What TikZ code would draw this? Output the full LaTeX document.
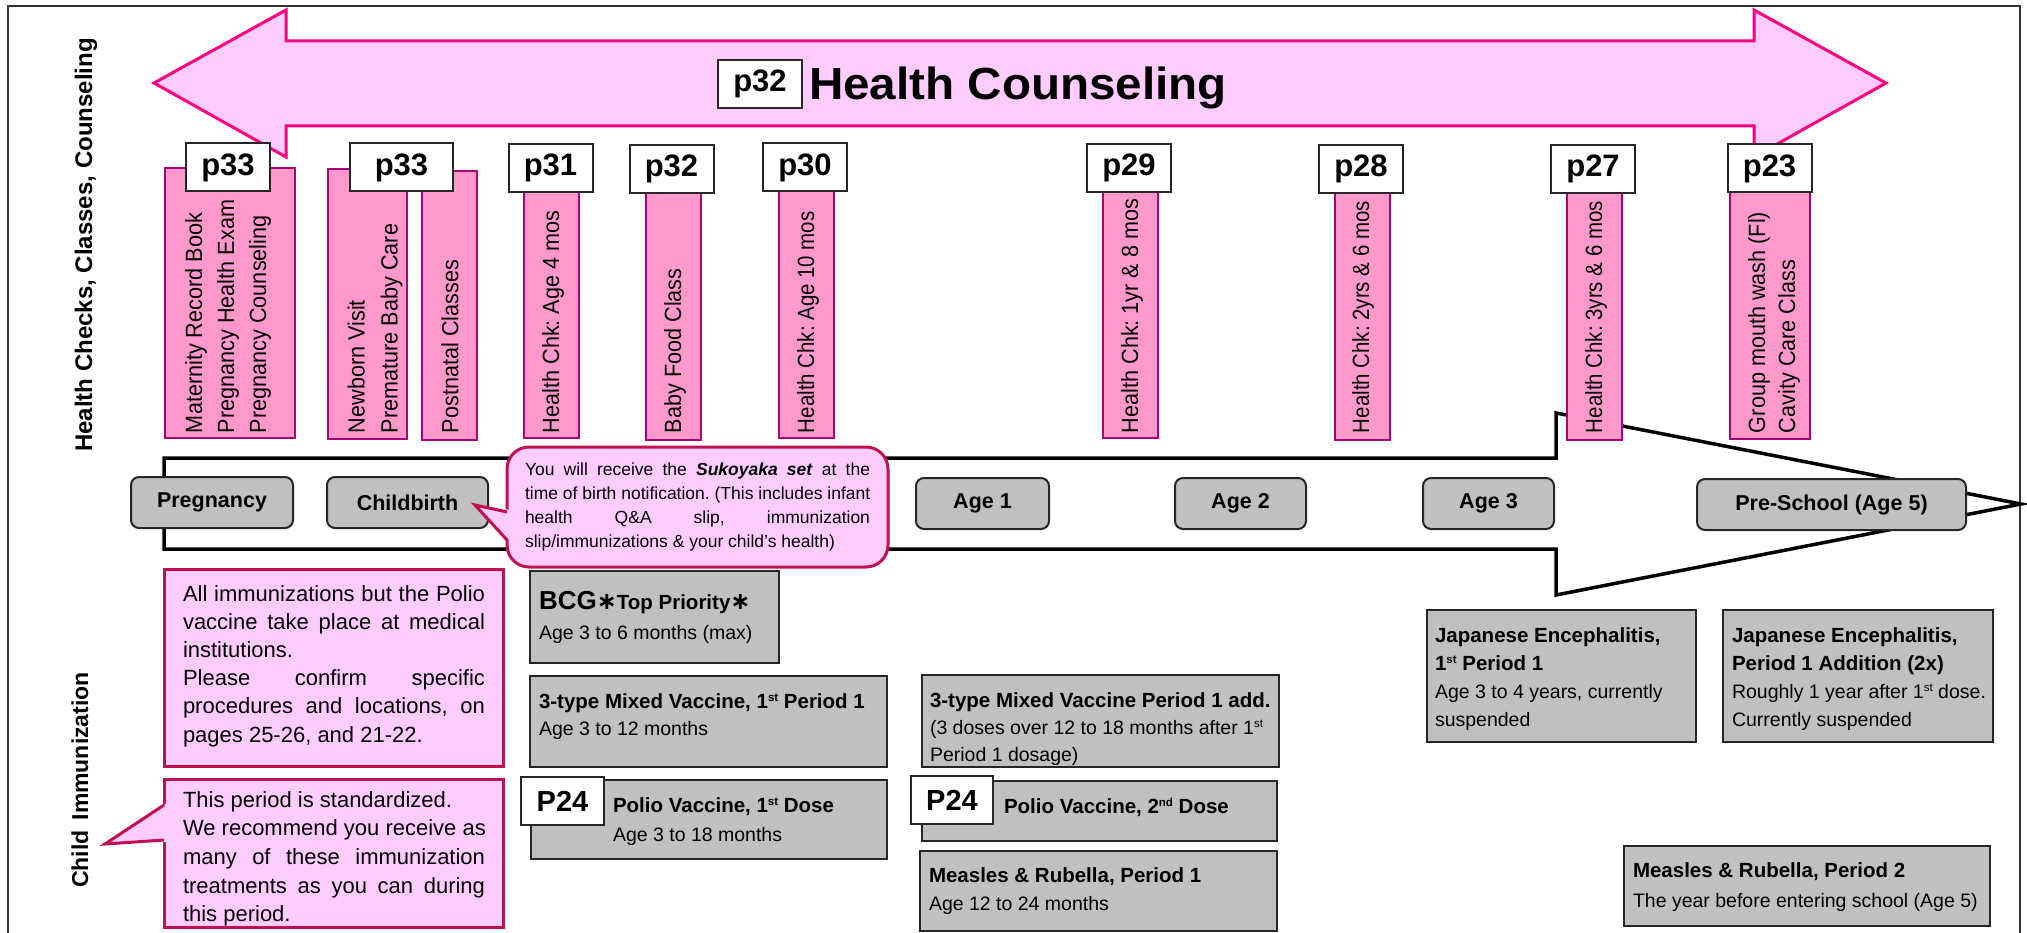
\documentclass[tikz,border=0pt]{standalone}
\usepackage{graphicx}
\usepackage{fontspec}
\setmainfont{Liberation Sans}
\newfontfamily\djv{DejaVu Sans}
\newfontfamily\cond[FakeStretch=0.92]{Liberation Sans}
\newfontfamily\condn[FakeStretch=0.87]{Liberation Sans}
\definecolor{apink}{RGB}{255,204,255}
\definecolor{aline}{RGB}{255,0,128}
\definecolor{cfill}{RGB}{255,153,204}
\definecolor{cline}{RGB}{170,0,120}
\definecolor{crim}{RGB}{192,16,80}
\definecolor{gbox}{RGB}{192,192,192}
\newcommand\fs[2]{\fontsize{#1}{#2}\selectfont}
\newcommand\rbox[6]{\node[#1, anchor=north west, minimum width={#5-#3}, minimum height={#6-#4}] (#2) at (#3,#4) {};}
\newcommand\jl[2]{\hbox to #1{\spaceskip=0.278em plus 1fil\relax #2}}
\newcommand\B{\fontsize{20.5}{28}\selectfont\bfseries}
\newcommand\sps[1]{\raisebox{0.33em}{\fontsize{11.5}{12}\selectfont #1}}
\newcommand\myast{{\djv\bfseries\fontsize{24}{24}\selectfont ∗}}
\frenchspacing
\begin{document}
\begin{tikzpicture}[x=1pt,y=-1pt,
  every node/.style={inner sep=0pt, outer sep=0pt},
  col/.style={draw=cline, fill=cfill, line width=2.5pt},
  pbox/.style={draw=black!85, fill=white, line width=2pt, minimum width=84pt, minimum height=48pt, font=\bfseries\fs{31}{31}},
  tl/.style={draw=black!85, fill=gbox, line width=2pt, rounded corners=8pt, minimum height=51pt, font=\bfseries\fs{21.5}{21.5}},
  gb/.style={draw=black!85, fill=gbox, line width=2pt},
  info/.style={draw=crim, fill=apink, line width=3pt},
  coltext/.style={rotate=90, anchor=west, font=\cond\fs{23.5}{32}},
  coltextn/.style={rotate=90, anchor=west, font=\condn\fs{23.5}{32}},
  txt/.style={anchor=base west}]
\useasboundingbox (0,0) rectangle (2027,933);
\clip (0,0) rectangle (2027,933);
% outer frame
\draw[line width=2.5pt, black!80] (8,6) rectangle (2020,960);
% big double arrow
\draw[draw=aline, fill=apink, line width=3pt, line join=miter]
  (154,83) -- (286,10) -- (286,41) -- (1754,41) -- (1754,10) -- (1886,83)
  -- (1754,157) -- (1754,126) -- (286,126) -- (286,157) -- cycle;
\node[pbox, minimum width=84pt] (p32t) at (760,84) {p32};
\node[anchor=base west] (hct) at (809,100) {\scalebox{1.058}[1]{\bfseries\fs{45}{45}Health Counseling}};
% timeline arrow
\draw[line width=3.5pt, fill=white, line join=miter]
  (164,458) -- (1556,458) -- (1556,413) -- (2021,504) -- (1556,595) -- (1556,549) -- (164,549) -- cycle;
% columns
\rbox{col}{c1}{165}{168}{295}{438}
\rbox{col}{c2a}{328}{169}{407}{439}
\rbox{col}{c2b}{422}{171}{477}{440}
\rbox{col}{c3}{524}{180}{579}{438}
\rbox{col}{c4}{646}{180}{701}{440}
\rbox{col}{c5}{779}{180}{834}{438}
\rbox{col}{c6}{1103}{180}{1158}{438}
\rbox{col}{c7}{1335}{180}{1390}{440}
\rbox{col}{c8}{1567}{180}{1622}{440}
\rbox{col}{c9}{1730}{180}{1810}{439}
% column texts
\node[coltext] (ct1) at (228,433) {\vtop{\hbox{Maternity Record Book}\hbox{Pregnancy Health Exam}\hbox{Pregnancy Counseling}}};
\node[coltext] (ct2a) at (375,433) {\fs{23.5}{33}\vtop{\hbox{Newborn Visit}\hbox{Premature Baby Care}}};
\node[coltext] (ct2b) at (450,433) {Postnatal Classes};
\node[coltext] (ct3) at (553,433) {Health Chk: Age 4 mos};
\node[coltext] (ct4) at (675,433) {Baby Food Class};
\node[coltextn] (ct5) at (808,433) {Health Chk: Age 10 mos};
\node[coltext] (ct6) at (1132,433) {Health Chk: 1yr \& 8 mos};
\node[coltextn] (ct7) at (1363,433) {Health Chk: 2yrs \& 6 mos};
\node[coltextn] (ct8) at (1596,433) {Health Chk: 3yrs \& 6 mos};
\node[coltext] (ct9) at (1774,433) {\fs{23.5}{30}\vtop{\hbox{Group mouth wash (Fl)}\hbox{Cavity Care Class}}};
% page boxes
\node[pbox] (b1) at (228,167.5) {p33};
\node[pbox, minimum width=103pt] (b2) at (401.5,167.5) {p33};
\node[pbox] (b3) at (550.5,168) {p31};
\node[pbox] (b4) at (671.5,169) {p32};
\node[pbox] (b5) at (805,167.5) {p30};
\node[pbox] (b6) at (1129,168) {p29};
\node[pbox] (b7) at (1361,169) {p28};
\node[pbox] (b8) at (1593,169) {p27};
\node[pbox] (b9) at (1769.5,168.5) {p23};
% side labels
\node[rotate=90, font=\bfseries\fs{24}{24}] (lab1) at (86,245) {Health Checks, Classes, Counseling};
\node[rotate=90, font=\bfseries\fs{23}{23}] (lab2) at (80,780) {Child\hspace{10pt}Immunization};
% timeline stages
\node[tl, minimum width=162pt] (s1) at (212,502.5) {Pregnancy};
\node[tl, minimum width=161pt] (s2) at (407.5,502.5) {Childbirth};
\node[tl, minimum width=133pt] (s3) at (982.5,503.5) {Age 1};
\node[tl, minimum width=131pt] (s4) at (1240.5,503.5) {Age 2};
\node[tl, minimum width=131pt] (s5) at (1488.5,503.5) {Age 3};
\node[tl, minimum width=269pt] (s6) at (1831.5,504.5) {Pre-School (Age 5)};
% Sukoyaka callout
\node[info, rounded corners=22pt, anchor=north west, minimum width=381pt, minimum height=120pt] (suk) at (507,447) {};
\fill[apink] (511,510) -- (475,505) -- (511,542) -- cycle;
\draw[crim, line width=3pt, line join=miter] (507,512) -- (475,505) -- (507,540);
\node[txt] (sukt) at (525,475) {\fs{17.5}{24.3}\vtop{\jl{345pt}{You will receive the \textbf{\textit{Sukoyaka set}} at the}\jl{345pt}{time of birth notification. (This includes infant}\jl{345pt}{health Q\&A slip, immunization}\hbox{slip/immunizations \& your child’s health)}}};
% info box 1
\rbox{info}{i1}{164}{569}{503}{766}
\node[txt] (i1t) at (183,601) {\fs{22}{28.2}\vtop{\jl{302pt}{All immunizations but the Polio}\jl{302pt}{vaccine take place at medical}\hbox{institutions.}\jl{302pt}{Please confirm specific}\jl{302pt}{procedures and locations, on}\hbox{pages 25-26, and 21-22.}}};
% info box 2 (callout)
\rbox{info}{i2}{164}{779}{503}{927}
\fill[apink] (167,803) -- (105,844) -- (167,842) -- cycle;
\draw[crim, line width=3pt, line join=miter] (164,805) -- (105,844) -- (164,840);
\begin{scope}
\clip (165.5,780.5) rectangle (501.5,925.5);
\node[txt] (i2t) at (183,807) {\fs{22}{28.7}\vtop{\hbox{This period is standardized.}\jl{302pt}{We recommend you receive as}\jl{302pt}{many of these immunization}\jl{302pt}{treatments as you can during}\hbox{this period.}}};
\end{scope}
% immunization boxes
\rbox{gb}{g1}{530}{571}{779}{663}
\node[txt] (g1t) at (539,609) {\fs{19.5}{30}\vtop{\hbox{\fontsize{26}{28}\selectfont\bfseries BCG\myast{\fontsize{20.5}{28}\selectfont Top Priority}\myast}\hbox{Age 3 to 6 months (max)}}};
\rbox{gb}{g2}{530}{676}{887}{767}
\node[txt] (g2t) at (539,708) {\fs{19.5}{27}\vtop{\hbox{\B 3-type Mixed Vaccine, 1\sps{st} Period 1}\hbox{Age 3 to 12 months}}};
\rbox{gb}{g3}{531}{780}{887}{859}
\node[txt] (g3t) at (613,812) {\fs{19.5}{29}\vtop{\hbox{\B Polio Vaccine, 1\sps{st} Dose}\hbox{Age 3 to 18 months}}};
\node[pbox, minimum width=83pt, font=\bfseries\fs{29}{29}] (q1) at (562.5,801) {P24};
\rbox{gb}{g4}{922}{675}{1279}{767}
\node[txt] (g4t) at (930,707) {\fs{19.5}{27}\vtop{\hbox{\B 3-type Mixed Vaccine Period 1 add.}\hbox{(3 doses over 12 to 18 months after 1\sps{st}}\hbox{Period 1 dosage)}}};
\rbox{gb}{g5}{922}{781}{1277}{841}
\node[txt] (g5t) at (1004,813) {\B Polio Vaccine, 2\sps{nd} Dose};
\node[pbox, minimum width=82pt, font=\bfseries\fs{29}{29}] (q2) at (952,800) {P24};
\rbox{gb}{g6}{920}{851}{1277}{931}
\node[txt] (g6t) at (929,882) {\fs{19.5}{28}\vtop{\hbox{\B Measles \& Rubella, Period 1}\hbox{Age 12 to 24 months}}};
\rbox{gb}{g7}{1427}{610}{1696}{742}
\node[txt] (g7t) at (1435,642) {\fs{19.5}{28}\vtop{\hbox{\B Japanese Encephalitis,}\hbox{\B 1\sps{st} Period 1}\hbox{Age 3 to 4 years, currently}\hbox{suspended}}};
\rbox{gb}{g8}{1723}{610}{1993}{742}
\node[txt] (g8t) at (1732,642) {\fs{19.5}{28}\vtop{\hbox{\B Japanese Encephalitis,}\hbox{\B Period 1 Addition (2x)}\hbox{Roughly 1 year after 1\sps{st} dose.}\hbox{Currently suspended}}};
\rbox{gb}{g9}{1624}{846}{1990}{926}
\node[txt] (g9t) at (1633,877) {\fs{19.5}{30}\vtop{\hbox{\B Measles \& Rubella, Period 2}\hbox{The year before entering school (Age 5)}}};
\end{tikzpicture}
\end{document}
